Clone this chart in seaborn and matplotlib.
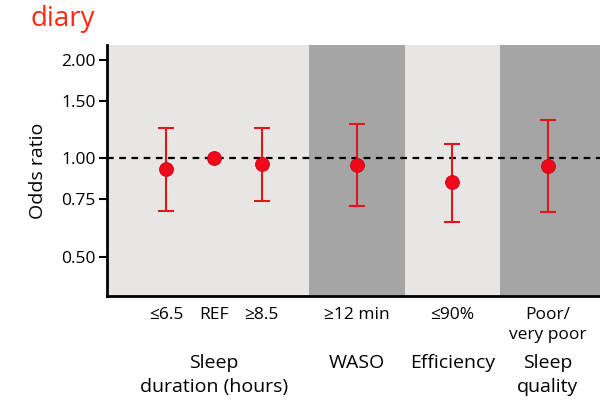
import matplotlib
matplotlib.use('Agg')
import matplotlib.pyplot as plt
import seaborn as sns
import pandas as pd

# Data (odds ratios with 95% CI)
labels = ['≤6.5', 'REF', '≥8.5', '≥12 min', '≤90%', 'Poor/\nvery poor']
xpos = [0, 1, 2, 4, 6, 8]
odds = [0.93, 1.00, 0.96, 0.955, 0.845, 0.95]
lower = [0.69, 1.00, 0.74, 0.715, 0.64, 0.685]
upper = [1.24, 1.00, 1.24, 1.275, 1.11, 1.31]
groups = ['Sleep\nduration (hours)', 'WASO', 'Efficiency', 'Sleep\nquality']
group_x = [1, 4, 6, 8]
yticks = [0.50, 0.75, 1.00, 1.50, 2.00]

df = pd.DataFrame({'x': xpos, 'odds': odds, 'lo': lower, 'hi': upper, 'label': labels})

sns.set_style('white')
plt.rcParams['font.family'] = ['Open Sans', 'DejaVu Sans']
plt.rcParams['text.color'] = 'black'
plt.rcParams['xtick.color'] = 'black'
plt.rcParams['ytick.color'] = 'black'
plt.rcParams['axes.labelcolor'] = 'black'

fig = plt.figure(figsize=(6, 4), dpi=100)
ax = fig.add_axes([0.178, 0.26, 0.822, 0.6275])

# shaded bands behind each domain
light, dark = '#e8e6e5', '#a5a5a5'
ax.axvspan(-1.25, 3, color=light, zorder=0, lw=0)
ax.axvspan(3, 5, color=dark, zorder=0, lw=0)
ax.axvspan(5, 7, color=light, zorder=0, lw=0)
ax.axvspan(7, 9.1, color=dark, zorder=0, lw=0)

ax.axhline(1.0, color='black', ls=(0, (3, 2.5)), lw=1.6, zorder=1)

# error bars (skip the reference, it has none)
ci = df[df.label != 'REF']
ax.errorbar(ci.x, ci.odds, yerr=[ci.odds - ci.lo, ci.hi - ci.odds], fmt='none',
            ecolor='#e0161c', elinewidth=1.5, capsize=6, capthick=1.5, zorder=2)
sns.scatterplot(data=df, x='x', y='odds', ax=ax, color='#ee0a1a', s=100,
                edgecolor='#d00010', linewidth=0.6, zorder=3, legend=False)

ax.set_yscale('log')
ax.set_ylim(0.38, 2.22)
ax.set_xlim(-1.25, 9.1)
ax.set_yticks(yticks)
ax.set_yticklabels([f'{t:.2f}' for t in yticks])
ax.minorticks_off()
ax.set_xticks(xpos)
ax.set_xticklabels(labels, fontsize=12.5, linespacing=1.35)
ax.tick_params(axis='x', length=0, pad=8)
ax.tick_params(axis='y', length=6, width=1.5, direction='out', left=True, labelsize=12.5, pad=2)
ax.set_xlabel('')
ax.set_ylabel('Odds ratio', fontsize=14, labelpad=10)

for s in ['top', 'right']:
    ax.spines[s].set_visible(False)
for s in ['left', 'bottom']:
    ax.spines[s].set_linewidth(2)
    ax.spines[s].set_color('black')

trans = ax.get_xaxis_transform()
for gx, g in zip(group_x, groups):
    ax.text(gx, -0.232, g, transform=trans, ha='center', va='top',
            fontsize=14, linespacing=1.4)

fig.text(0.05, 0.953, 'diary', color='#ff2a12', fontsize=20, va='center', ha='left')

fig.savefig('out.png', dpi=100)
